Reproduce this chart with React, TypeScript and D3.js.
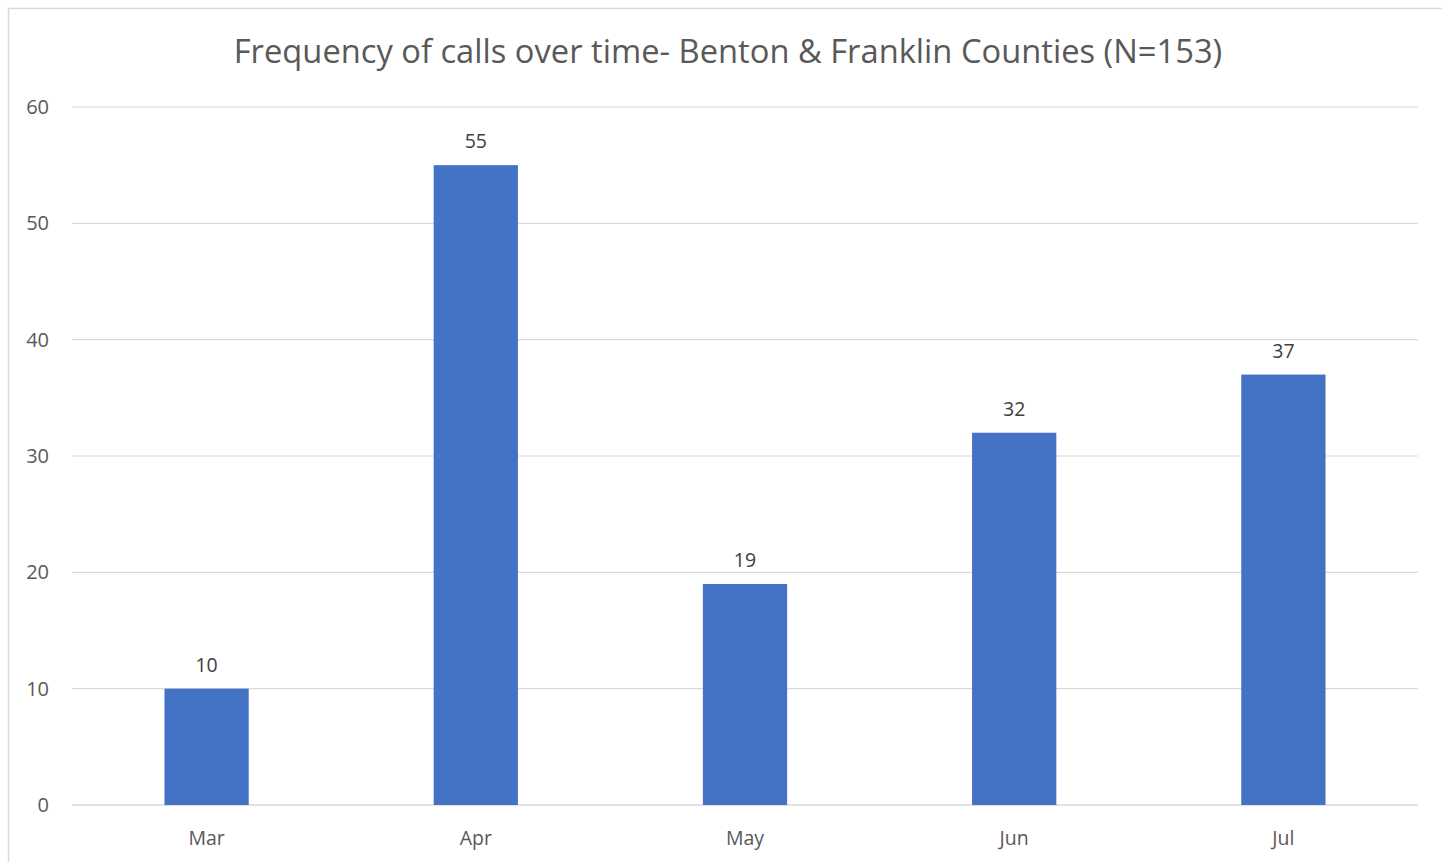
import React from "react";
import * as d3 from "d3";

const categories = ["Mar", "Apr", "May", "Jun", "Jul"];
const values = [10, 55, 19, 32, 37];
const yTicks = [0, 10, 20, 30, 40, 50, 60];
const title = "Frequency of calls over time- Benton & Franklin Counties (N=153)";

const W = 1442;
const H = 862;
const FONT = "'Open Sans', 'Noto Sans', sans-serif";

export default function App() {
  const plotLeft = 72;
  const plotRight = 1418;
  const plotTop = 107;
  const plotBottom = 805;

  const x = d3.scaleBand<string>().domain(categories).range([plotLeft, plotRight]).padding(0);
  const y = d3.scaleLinear().domain([0, 60]).range([plotBottom, plotTop]);
  const barW = x.bandwidth() * 0.313;

  return (
    <div style={{ position: "fixed", left: 0, top: 0, width: W, height: H, overflow: "hidden", background: "#fff" }}>
      <svg width={W} height={H} style={{ display: "block" }} fontFamily={FONT}>
        <rect x={0} y={0} width={W} height={H} fill="#fff" />
        {/* chart area border (extends past the viewport right & bottom) */}
        <rect x={8.5} y={8.5} width={W + 20} height={H + 20} fill="none" stroke="#d9d9d9" strokeWidth={1.5} />
        <text x={728} y={63} textAnchor="middle" fontSize={32.7} fill="#595959">
          {title}
        </text>
        {yTicks.map((t) => (
          <g key={t}>
            <line x1={plotLeft} x2={plotRight} y1={y(t)} y2={y(t)} stroke="#d9d9d9" strokeWidth={t === 0 ? 1.5 : 1.2} />
            <text x={49} y={y(t)} dy="0.35em" textAnchor="end" fontSize={20} fill="#595959">
              {t}
            </text>
          </g>
        ))}
        {categories.map((c, i) => {
          const cx = (x(c) as number) + x.bandwidth() / 2;
          return (
            <g key={c}>
              <rect x={cx - barW / 2} y={y(values[i])} width={barW} height={plotBottom - y(values[i])} fill="#4472c4" />
              <text x={cx} y={y(values[i]) - 17} textAnchor="middle" fontSize={19.5} fill="#404040">
                {values[i]}
              </text>
              <text x={cx} y={845} textAnchor="middle" fontSize={19.5} fill="#595959">
                {c}
              </text>
            </g>
          );
        })}
      </svg>
    </div>
  );
}
